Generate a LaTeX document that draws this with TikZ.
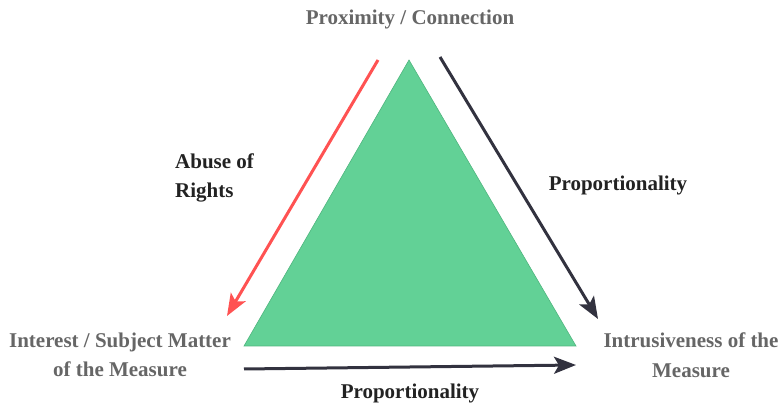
\documentclass[tikz,border=0pt]{standalone}
\usepackage{fontspec}
\setmainfont{Liberation Serif}
\usetikzlibrary{arrows.meta}
\definecolor{tgreen}{HTML}{62D196}
\definecolor{tgreenb}{HTML}{4FB57E}
\definecolor{tred}{HTML}{FF5252}
\definecolor{tdark}{HTML}{32323F}
\definecolor{tgray}{HTML}{666666}
\definecolor{tlabel}{HTML}{222222}
\begin{document}
\begin{tikzpicture}[x=1pt,y=1pt,
  corner/.style={font=\fontsize{21}{29.5}\selectfont\bfseries, text=tgray, align=center, inner sep=0pt},
  edgelabel/.style={font=\fontsize{21}{29.5}\selectfont\bfseries, text=tlabel, inner sep=0pt},
  arr/.style={line width=3pt, -{Stealth[length=22pt,width=17pt,inset=5pt]}}]
\useasboundingbox (0,0) rectangle (782,407);
% triangle
\coordinate (A) at (409,347);
\coordinate (B) at (244,61);
\coordinate (C) at (576,61);
\filldraw[fill=tgreen, draw=tgreenb, line width=0.6pt] (A) -- (B) -- (C) -- cycle;
% corner labels
\node[corner] (top) at (410,388) {Proximity / Connection};
\node[corner] (left) at (120,52) {Interest / Subject Matter\\of the Measure};
\node[corner] (right) at (691,52) {Intrusiveness of the\\Measure};
% arrow ends
\coordinate (r1) at (378,347);
\coordinate (r2) at (227,91);
\coordinate (d1) at (440,350);
\coordinate (d2) at (598,88);
\coordinate (b1) at (244,38);
\coordinate (b2) at (576,42);
\draw[arr, tred] (r1) -- (r2);
\draw[arr, tdark] (d1) -- (d2);
\draw[arr, tdark] (b1) -- (b2);
% edge labels
\node[edgelabel, align=left, anchor=west] (abuse) at (175,229) {Abuse of\\Rights};
\node[edgelabel] (prop1) at (618,222) {Proportionality};
\node[edgelabel] (prop2) at (410,14) {Proportionality};
\end{tikzpicture}
\end{document}
